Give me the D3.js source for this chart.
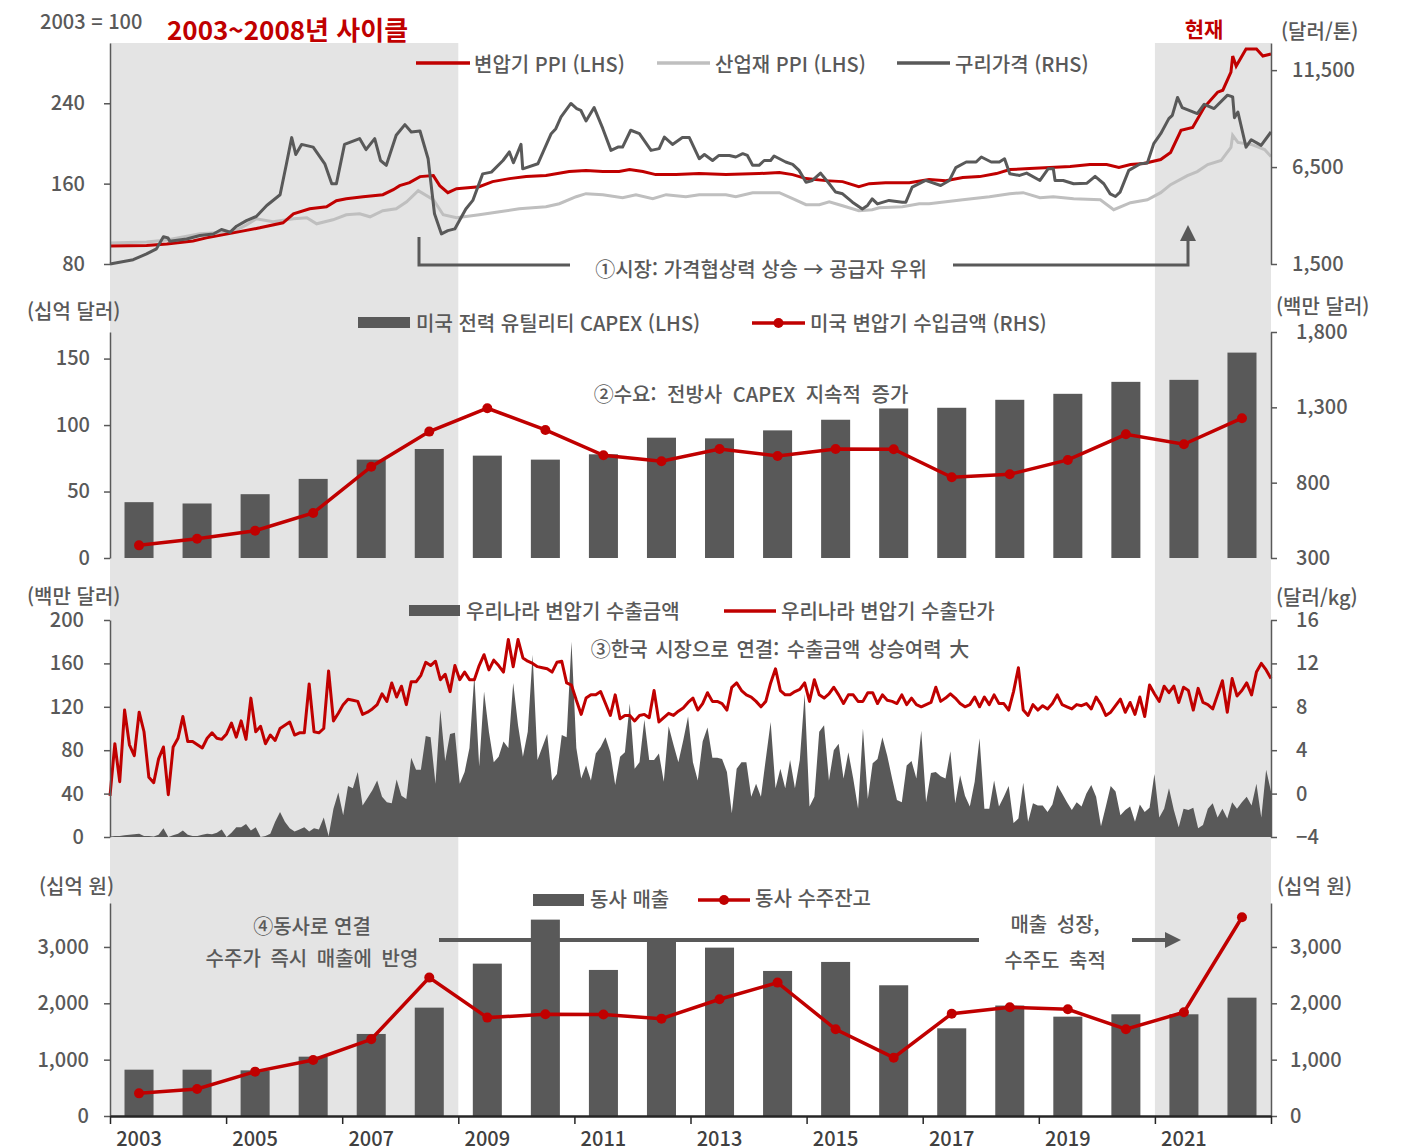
<!DOCTYPE html>
<html lang="ko">
<head>
<meta charset="utf-8">
<title>변압기 사이클</title>
<script src="https://cdn.jsdelivr.net/npm/d3@7"></script>
<style>
  body { margin: 0; background: #fff; }
  svg text { font-family: "Noto Sans CJK KR", "Noto Sans", sans-serif; }
</style>
</head>
<body>
<div id="chart"></div>
<script>
// ---------- data ----------
const years = [2003, 2004, 2005, 2006, 2007, 2008, 2009, 2010, 2011, 2012,
               2013, 2014, 2015, 2016, 2017, 2018, 2019, 2020, 2021, 2022];
const labelYears = [2003, 2005, 2007, 2009, 2011, 2013, 2015, 2017, 2019, 2021];
const tickYears = [2003, 2005, 2007, 2009, 2011, 2013, 2015, 2017, 2019, 2021, 2023];
const cyclePeriods = [[2003, 2009], [2021, 2023]];

// panel 1: 2003 = 100 (LHS), copper USD/t (RHS); turning points of monthly series
const trafoPpiT = [2003.00, 2003.63, 2003.98, 2004.43, 2004.66, 2005.12, 2005.58, 2005.98, 2006.16, 2006.44,
  2006.73, 2006.90, 2007.07, 2007.36, 2007.70, 2007.88, 2007.99, 2008.16, 2008.34, 2008.57, 2008.68, 2008.82,
  2008.97, 2009.36, 2009.59, 2009.88, 2010.17, 2010.51, 2010.91, 2011.20, 2011.49, 2011.77, 2011.95, 2012.18,
  2012.40, 2012.75, 2013.15, 2013.61, 2014.18, 2014.53, 2014.76, 2014.99, 2015.33, 2015.62, 2015.90, 2016.08,
  2016.36, 2016.77, 2017.11, 2017.40, 2017.69, 2017.98, 2018.27, 2018.50, 2018.84, 2019.19, 2019.54, 2019.88,
  2020.17, 2020.38, 2020.58, 2020.81, 2021.10, 2021.27, 2021.45, 2021.65, 2021.85, 2022.08, 2022.17, 2022.31,
  2022.34, 2022.40, 2022.57, 2022.75, 2022.86, 2023.00];
const trafoPpi = [98, 98.5, 100, 103, 106, 111, 116, 121, 130, 135,
  137, 143, 145, 147, 149, 154, 158, 161, 167, 168, 158, 151,
  155, 157, 162, 165, 167, 168, 172, 173, 172, 172, 174, 172,
  169, 169, 170, 169, 170, 171, 169, 165, 163, 162, 157, 160,
  161, 161, 164, 163, 166, 167, 170, 174, 175, 176, 177, 179,
  179, 176, 179, 180, 184, 191, 213, 216, 236, 251, 253, 271,
  287, 277, 294, 294, 287, 289];

const industPpiT = [2003.00, 2003.63, 2003.98, 2004.55, 2005.12, 2005.35, 2005.52, 2005.81, 2006.16, 2006.39,
  2006.56, 2006.84, 2007.07, 2007.30, 2007.48, 2007.70, 2007.93, 2008.11, 2008.31, 2008.57, 2008.74, 2008.97,
  2009.36, 2009.71, 2010.05, 2010.51, 2010.74, 2011.03, 2011.20, 2011.49, 2011.83, 2012.06, 2012.35, 2012.58,
  2012.92, 2013.15, 2013.61, 2013.78, 2014.07, 2014.53, 2014.76, 2014.99, 2015.22, 2015.39, 2015.62, 2015.90,
  2016.13, 2016.25, 2016.65, 2016.94, 2017.11, 2017.69, 2018.15, 2018.50, 2018.73, 2019.02, 2019.25, 2019.60,
  2020.06, 2020.29, 2020.58, 2020.87, 2021.10, 2021.27, 2021.56, 2021.73, 2021.91, 2022.14, 2022.31, 2022.34,
  2022.43, 2022.66, 2022.89, 2023.00];
const industPpi = [101, 102, 104, 110, 112, 119, 125, 122, 125, 126,
  120, 124, 129, 130, 127, 133, 135, 142, 153, 144, 129, 126,
  129, 132, 135, 137, 140, 147, 150, 149, 146, 149, 145, 149,
  147, 149, 149, 147, 151, 151, 145, 139, 139, 142, 138, 133,
  134, 136, 137, 140, 140, 144, 147, 150, 151, 146, 147, 145,
  144, 134, 141, 144, 151, 159, 168, 172, 179, 183, 196, 208,
  201, 199, 194, 187];

const copperT = [2003.00, 2003.40, 2003.63, 2003.80, 2003.92, 2004.00, 2004.03, 2004.32, 2004.55, 2004.78,
  2004.92, 2005.07, 2005.18, 2005.35, 2005.52, 2005.70, 2005.93, 2006.04, 2006.13, 2006.20, 2006.30, 2006.50,
  2006.70, 2006.82, 2006.90, 2007.04, 2007.30, 2007.41, 2007.56, 2007.66, 2007.76, 2007.93, 2008.08, 2008.19,
  2008.34, 2008.48, 2008.59, 2008.71, 2008.82, 2008.94, 2009.02, 2009.13, 2009.25, 2009.42, 2009.57, 2009.77,
  2009.88, 2009.95, 2010.08, 2010.11, 2010.37, 2010.60, 2010.68, 2010.77, 2010.94, 2011.04, 2011.11, 2011.20,
  2011.34, 2011.49, 2011.63, 2011.75, 2011.83, 2011.97, 2012.12, 2012.32, 2012.46, 2012.55, 2012.69, 2012.86,
  2012.98, 2013.15, 2013.24, 2013.38, 2013.49, 2013.67, 2013.78, 2013.90, 2013.98, 2014.07, 2014.18, 2014.27,
  2014.38, 2014.44, 2014.64, 2014.76, 2014.87, 2014.99, 2015.10, 2015.24, 2015.39, 2015.50, 2015.62, 2015.79,
  2015.96, 2016.05, 2016.13, 2016.22, 2016.42, 2016.65, 2016.71, 2016.82, 2017.05, 2017.31, 2017.46, 2017.57,
  2017.75, 2017.92, 2018.01, 2018.18, 2018.32, 2018.41, 2018.50, 2018.67, 2018.79, 2019.02, 2019.16, 2019.25,
  2019.28, 2019.42, 2019.60, 2019.83, 2019.97, 2020.12, 2020.23, 2020.32, 2020.40, 2020.55, 2020.75, 2020.87,
  2020.98, 2021.10, 2021.24, 2021.30, 2021.39, 2021.47, 2021.73, 2021.85, 2022.02, 2022.25, 2022.34, 2022.37,
  2022.43, 2022.57, 2022.66, 2022.83, 2023.00];
const copper = [1500, 1720, 2020, 2280, 2910, 2840, 2670, 2790, 2970, 3050,
  3280, 3140, 3450, 3740, 3950, 4520, 5070, 6670, 8020, 7150, 7670, 7530,
  6670, 5640, 5640, 7670, 7970, 7400, 7970, 6840, 6590, 8140, 8690, 8310,
  8360, 6930, 4090, 3050, 3220, 3310, 3740, 4340, 4780, 6150, 6240, 6840,
  7280, 6720, 7670, 6410, 6670, 8220, 8480, 9090, 9780, 9520, 9430, 8880,
  9570, 8480, 7360, 7530, 7530, 8400, 8220, 7360, 7450, 8050, 7670, 8020,
  8020, 6930, 7150, 6840, 7100, 7100, 7020, 7190, 7100, 6590, 6590, 6840,
  6840, 7070, 6760, 6640, 6330, 5720, 5810, 6190, 5640, 5210, 5120, 4690,
  4340, 4520, 4860, 4600, 4780, 4690, 4690, 5470, 5810, 5550, 5810, 6470,
  6760, 6760, 7020, 6760, 6760, 6930, 6150, 6070, 6190, 5810, 6410, 6410,
  5810, 5810, 5640, 5670, 6020, 5640, 5120, 4980, 5210, 6330, 6670, 6710,
  7710, 8220, 9000, 9170, 10090, 9570, 9260, 9740, 9520, 10210, 10120, 9050,
  9340, 7530, 7910, 7620, 8310];

// panel 2: annual
const usCapex = [42, 41, 48, 59.5, 74, 82, 77, 74, 78, 90.5, 90, 96, 104, 112.5, 113, 119, 123.5, 132.5, 134, 154.5];
const usTrafoImports = [384, 428, 481, 599, 906, 1139, 1294, 1150, 982, 942, 1024, 977, 1024, 1022, 836, 856, 951, 1121, 1055, 1228];

// panel 3: monthly, Jan 2003 - Dec 2022
const krExportValue = [
  0.5, 1, 1, 1.5, 2, 2.5, 3, 1, 1, 0.5, 2, 8, 0, 1.5, 3, 6, 2, 1, 1, 2,
  3, 2.5, 4, 7, 0, 4, 9, 9, 12, 6, 9, 0, 1, 3, 14, 23, 14, 8, 5, 7,
  9, 5, 8, 7, 18, 1, 26, 41, 20, 47, 45, 60, 29, 36, 43, 52, 37, 32, 31, 53,
  38, 35, 73, 62, 62, 93, 92, 49, 117, 70, 95, 96, 49, 60, 82, 149, 65, 134, 97, 69,
  74, 88, 82, 142, 103, 74, 97, 168, 71, 83, 95, 52, 58, 94, 92, 180, 82, 54, 66, 52,
  77, 83, 92, 78, 48, 74, 78, 123, 63, 69, 108, 71, 71, 77, 51, 102, 85, 69, 89, 111,
  69, 52, 88, 101, 73, 73, 72, 60, 22, 63, 69, 69, 37, 49, 37, 72, 106, 45, 63, 45,
  71, 45, 71, 132, 28, 37, 97, 103, 52, 80, 86, 54, 78, 54, 26, 100, 35, 68, 72, 92,
  75, 54, 34, 32, 66, 70, 54, 98, 32, 59, 60, 56, 54, 79, 31, 57, 38, 28, 51, 91,
  26, 26, 52, 28, 37, 47, 13, 17, 50, 14, 31, 29, 29, 23, 30, 48, 40, 32, 25, 32,
  28, 40, 48, 37, 10, 28, 47, 42, 20, 25, 28, 14, 30, 23, 27, 58, 18, 26, 45, 25,
  9, 26, 25, 27, 8, 11, 26, 31, 18, 26, 17, 32, 26, 32, 37, 29, 49, 18, 62, 42];
const krExportPrice = [
  -0.2, 4.6, 1.1, 7.7, 4.5, 3.5, 7.5, 5.7, 1.5, 1.0, 3.2, 4.3, -0.1, 4.3, 5.1, 7.1, 4.8, 4.8, 4.5, 4.2,
  5.1, 5.6, 5.1, 5.0, 5.5, 6.5, 5.2, 6.7, 5.0, 8.8, 5.7, 6.2, 4.6, 5.4, 4.9, 6.0, 6.3, 6.6, 5.4, 5.6,
  5.6, 10.1, 5.7, 5.6, 6.0, 11.3, 6.7, 7.4, 8.2, 8.7, 8.6, 8.5, 7.3, 7.5, 7.8, 8.2, 9.2, 8.5, 10.2, 8.9,
  9.9, 8.2, 10.3, 10.3, 10.9, 12.1, 11.8, 12.2, 10.5, 11.0, 9.4, 11.8, 10.5, 11.2, 10.5, 10.5, 11.8, 12.8, 11.4, 12.3,
  11.8, 11.2, 14.2, 11.7, 14.2, 12.5, 12.2, 12.0, 11.7, 11.6, 11.5, 11.2, 12.1, 12.2, 10.2, 10.0, 8.6, 7.3, 8.8, 9.1,
  9.1, 9.4, 8.3, 7.2, 9.1, 6.9, 7.2, 7.2, 6.7, 7.2, 7.3, 7.0, 9.5, 6.6, 7.0, 7.4, 7.2, 7.6, 7.9, 8.4,
  8.8, 7.7, 8.3, 9.3, 8.5, 8.5, 8.3, 7.7, 9.8, 10.2, 9.5, 9.1, 8.9, 8.5, 8.0, 8.5, 10.2, 11.5, 9.5, 9.1,
  9.1, 9.4, 9.6, 10.2, 8.5, 10.5, 9.1, 8.8, 9.2, 9.8, 9.1, 8.3, 9.1, 9.1, 8.5, 8.5, 9.3, 9.3, 8.3, 9.1,
  8.6, 8.5, 8.3, 9.1, 8.2, 8.8, 8.2, 8.0, 8.2, 8.4, 9.8, 8.5, 8.8, 9.2, 8.8, 8.3, 8.0, 8.2, 8.9, 8.0,
  8.9, 8.2, 9.1, 8.3, 8.3, 7.7, 9.4, 11.6, 7.7, 7.2, 8.2, 7.7, 8.1, 7.8, 8.3, 9.1, 8.2, 8.0, 7.8, 8.2,
  8.1, 8.3, 7.8, 8.9, 8.2, 7.2, 7.5, 8.1, 8.7, 7.5, 8.4, 7.3, 8.9, 7.1, 10.0, 9.2, 8.5, 9.9, 9.3, 9.9,
  8.4, 9.8, 9.5, 7.7, 9.7, 8.4, 8.2, 7.8, 9.1, 10.4, 7.5, 10.6, 9.0, 9.5, 10.2, 9.1, 11.2, 12.0, 11.4, 10.6];

// panel 4: annual, KRW bn
const companySales = [822, 822, 810, 1053, 1456, 1923, 2704, 3485, 2592, 3150, 2988, 2574, 2734, 2320, 1556, 1960, 1763, 1805, 1805, 2100];
const companyBacklog = [402, 479, 787, 994, 1361, 2456, 1746, 1805, 1800, 1728, 2072, 2367, 1539, 1035, 1816, 1930, 1894, 1539, 1841, 3527];

// ---------- layout ----------
const W = 1413, H = 1148;
const X0 = 110, X1 = 1271;
const RED = "#c00000", DARK = "#595959", LIGHT = "#bfbfbf", SHADE = "#e4e4e4", TXT = "#595959";
const FS = 20, FW = 500;

const svg = d3.select("#chart").append("svg")
    .attr("width", W)
    .attr("height", H);

const xTime = d3.scaleLinear().domain([2003, 2023]).range([X0, X1]);
const xBand = d3.scaleBand().domain(years).range([X0, X1]).paddingInner(0.5).paddingOuter(0.25);
const xMonth = d3.scaleLinear().domain([0, krExportValue.length - 1]).range([X0, X1]);
const bw = xBand.bandwidth();
const xMid = yr => xBand(yr) + bw / 2;

const y1L = d3.scaleLinear().domain([80, 300]).range([264, 43]);
const y1R = d3.scaleLinear().domain([1500, 12900]).range([264, 43]);
const y2L = d3.scaleLinear().domain([0, 170]).range([558, 332]);
const y2R = d3.scaleLinear().domain([300, 1800]).range([558, 332]);
const y3L = d3.scaleLinear().domain([0, 200]).range([837, 620]);
const y3R = d3.scaleLinear().domain([-4, 16]).range([837, 620]);
const y4 = d3.scaleLinear().domain([0, 3780]).range([1116, 903]);

// shaded cycle periods
cyclePeriods.forEach(([a, b]) => {
    svg.append("rect")
        .attr("x", xTime(a))
        .attr("width", xTime(b) - xTime(a))
        .attr("y", 43)
        .attr("height", 1116 - 43)
        .attr("fill", SHADE);
});

function yAxis(scale, side, ticks, pad) {
    const axis = (side === "left" ? d3.axisLeft(scale) : d3.axisRight(scale))
        .tickValues(ticks)
        .tickSize(6)
        .tickSizeOuter(0)
        .tickPadding(pad)
        .tickFormat(d3.format(","));
    const g = svg.append("g")
        .attr("transform", `translate(${side === "left" ? X0 : X1},0)`)
        .call(axis);
    g.attr("font-family", null).attr("font-size", FS).attr("font-weight", FW);
    g.select(".domain").attr("stroke", DARK).attr("stroke-width", 1.5);
    g.selectAll(".tick line").attr("stroke", DARK).attr("stroke-width", 1.5);
    g.selectAll(".tick text").attr("fill", TXT);
}

function label(x, y, text, o = {}) {
    return svg.append("text")
        .attr("x", x)
        .attr("y", y)
        .attr("dominant-baseline", "central")
        .attr("text-anchor", o.anchor || "start")
        .attr("font-size", o.size || FS)
        .attr("font-weight", o.weight || FW)
        .attr("fill", o.color || TXT)
        .style("word-spacing", o.ws ? o.ws + "px" : null)
        .text(text);
}

function swatchLine(xa, xb, y, color, dot) {
    svg.append("line").attr("x1", xa).attr("x2", xb).attr("y1", y).attr("y2", y)
        .attr("stroke", color).attr("stroke-width", 3.5);
    if (dot) svg.append("circle").attr("cx", (xa + xb) / 2).attr("cy", y).attr("r", 5).attr("fill", color);
}

// ---------- panel 1 ----------
const timeLine = sy => d3.line().x(d => xTime(d[0])).y(d => sy(d[1]));

svg.append("path").datum(d3.zip(industPpiT, industPpi))
    .attr("d", timeLine(y1L)).attr("fill", "none").attr("stroke", LIGHT).attr("stroke-width", 3);
svg.append("path").datum(d3.zip(trafoPpiT, trafoPpi))
    .attr("d", timeLine(y1L)).attr("fill", "none").attr("stroke", RED).attr("stroke-width", 3);
svg.append("path").datum(d3.zip(copperT, copper))
    .attr("d", timeLine(y1R)).attr("fill", "none").attr("stroke", DARK).attr("stroke-width", 3)
    .attr("stroke-linejoin", "round");

yAxis(y1L, "left", [80, 160, 240], 19);
yAxis(y1R, "right", [1500, 6500, 11500], 15);

label(40, 20, "2003 = 100");
label(167, 28, "2003~2008년 사이클", { size: 26, weight: 700, color: RED });
label(1204, 28, "현재", { anchor: "middle", size: 21, weight: 700, color: RED });
label(1281, 30, "(달러/톤)");

swatchLine(416, 470, 63, RED);
label(474, 63, "변압기 PPI (LHS)");
swatchLine(657, 710, 63, LIGHT);
label(715, 63, "산업재 PPI (LHS)");
swatchLine(897, 950, 63, DARK);
label(955, 63, "구리가격 (RHS)");

svg.append("path").attr("d", "M419,237V265H570")
    .attr("fill", "none").attr("stroke", DARK).attr("stroke-width", 3);
svg.append("path").attr("d", "M953,265H1188V240")
    .attr("fill", "none").attr("stroke", DARK).attr("stroke-width", 3);
svg.append("path").attr("d", "M1180,241L1196,241L1188,225Z").attr("fill", DARK);
label(761, 268, "①시장: 가격협상력 상승 → 공급자 우위", { anchor: "middle" });

// ---------- panel 2 ----------
svg.append("g").selectAll("rect")
    .data(years)
    .enter().append("rect")
    .attr("x", d => xBand(d))
    .attr("width", bw)
    .attr("y", (d, i) => y2L(usCapex[i]))
    .attr("height", (d, i) => y2L(0) - y2L(usCapex[i]))
    .attr("fill", DARK);

svg.append("path").datum(d3.zip(years, usTrafoImports))
    .attr("d", d3.line().x(d => xMid(d[0])).y(d => y2R(d[1])))
    .attr("fill", "none").attr("stroke", RED).attr("stroke-width", 3.5);
svg.append("g").selectAll("circle")
    .data(d3.zip(years, usTrafoImports))
    .enter().append("circle")
    .attr("cx", d => xMid(d[0])).attr("cy", d => y2R(d[1])).attr("r", 5).attr("fill", RED);

yAxis(y2L, "left", [0, 50, 100, 150], 14);
yAxis(y2R, "right", [300, 800, 1300, 1800], 19);

label(27, 310, "(십억 달러)");
label(1276, 305, "(백만 달러)");
svg.append("rect").attr("x", 358).attr("y", 317).attr("width", 52).attr("height", 11).attr("fill", DARK);
label(416, 322, "미국 전력 유틸리티 CAPEX (LHS)");
swatchLine(752, 805, 323, RED, true);
label(810, 322, "미국 변압기 수입금액 (RHS)");
label(751, 393, "②수요: 전방사 CAPEX 지속적 증가", { anchor: "middle", ws: 5 });

// ---------- panel 3 ----------
svg.append("path").datum(krExportValue)
    .attr("d", d3.area().x((d, i) => xMonth(i)).y0(y3L(0)).y1(d => y3L(d)))
    .attr("fill", DARK);
svg.append("path").datum(krExportPrice)
    .attr("d", d3.line().x((d, i) => xMonth(i)).y(d => y3R(d)))
    .attr("fill", "none").attr("stroke", RED).attr("stroke-width", 3).attr("stroke-linejoin", "round");

yAxis(y3L, "left", [0, 40, 80, 120, 160, 200], 20);
yAxis(y3R, "right", [-4, 0, 4, 8, 12, 16], 19);

label(27, 595, "(백만 달러)");
label(1276, 596, "(달러/kg)");
svg.append("rect").attr("x", 409).attr("y", 605).attr("width", 51).attr("height", 11).attr("fill", DARK);
label(466, 610, "우리나라 변압기 수출금액");
swatchLine(724, 776, 611, RED);
label(781, 610, "우리나라 변압기 수출단가");
label(780, 648, "③한국 시장으로 연결: 수출금액 상승여력 大", { anchor: "middle", ws: 2 });

// ---------- panel 4 ----------
svg.append("g").selectAll("rect")
    .data(years)
    .enter().append("rect")
    .attr("x", d => xBand(d))
    .attr("width", bw)
    .attr("y", (d, i) => y4(companySales[i]))
    .attr("height", (d, i) => y4(0) - y4(companySales[i]))
    .attr("fill", DARK);

svg.append("path").attr("d", "M439,940H979")
    .attr("stroke", DARK).attr("stroke-width", 4);
svg.append("path").attr("d", "M1132,940H1167")
    .attr("stroke", DARK).attr("stroke-width", 4);
svg.append("path").attr("d", "M1165,932L1181,940L1165,948Z").attr("fill", DARK);

svg.append("path").datum(d3.zip(years, companyBacklog))
    .attr("d", d3.line().x(d => xMid(d[0])).y(d => y4(d[1])))
    .attr("fill", "none").attr("stroke", RED).attr("stroke-width", 3.5);
svg.append("g").selectAll("circle")
    .data(d3.zip(years, companyBacklog))
    .enter().append("circle")
    .attr("cx", d => xMid(d[0])).attr("cy", d => y4(d[1])).attr("r", 5).attr("fill", RED);

yAxis(y4, "left", [0, 1000, 2000, 3000], 15);
yAxis(y4, "right", [0, 1000, 2000, 3000], 13);

label(39, 885, "(십억 원)");
label(1277, 885, "(십억 원)");
svg.append("rect").attr("x", 533).attr("y", 894).attr("width", 51).attr("height", 12).attr("fill", DARK);
label(590, 898, "동사 매출");
swatchLine(698, 750, 900, RED, true);
label(755, 897, "동사 수주잔고");
label(312, 925, "④동사로 연결", { anchor: "middle" });
label(312, 957, "수주가 즉시 매출에 반영", { anchor: "middle", ws: 4 });
label(1055, 923, "매출 성장,", { anchor: "middle", ws: 4 });
label(1055, 959, "수주도 축적", { anchor: "middle", ws: 4 });

// bottom time axis
const xg = svg.append("g")
    .attr("transform", "translate(0,1116)")
    .call(d3.axisBottom(xTime).tickValues(tickYears).tickSize(8).tickSizeOuter(0).tickFormat(""));
xg.select(".domain").attr("stroke", "#262626").attr("stroke-width", 2.5);
xg.selectAll(".tick line").attr("stroke", "#262626").attr("stroke-width", 1.5);
svg.append("g").selectAll("text")
    .data(labelYears)
    .enter().append("text")
    .attr("x", d => xMid(d))
    .attr("y", 1137)
    .attr("dominant-baseline", "central")
    .attr("text-anchor", "middle")
    .attr("font-size", FS)
    .attr("font-weight", FW)
    .attr("fill", "#404040")
    .text(d => d);
</script>
</body>
</html>
